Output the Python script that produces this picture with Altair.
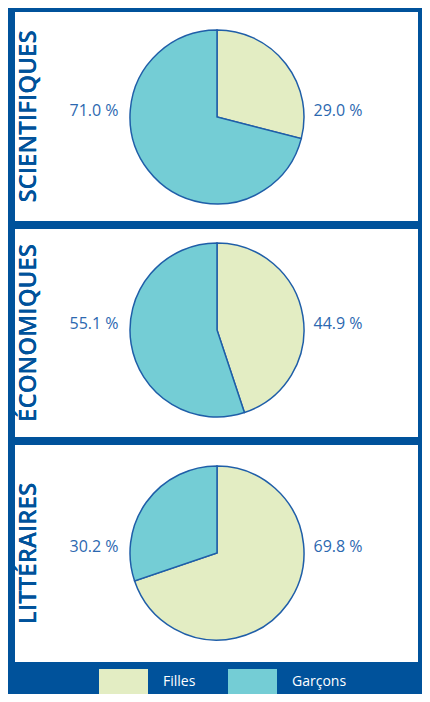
import altair as alt
import pandas as pd

# ---- data ----
categories = ["SCIENTIFIQUES", "ÉCONOMIQUES", "LITTÉRAIRES"]
genres = ["Filles", "Garçons"]
filles = [29.0, 44.9, 69.8]
garcons = [71.0, 55.1, 30.2]

# ---- style ----
BLUE = "#00529b"
LABEL_BLUE = "#2c68b0"
COLORS = ["#e3edc3", "#74cdd5"]
FONT = "Open Sans"
panel_heights = [209, 208, 217]
pie_cy = [105, 101, 108]
W = 403
CX = 202


def panel(i):
    df = pd.DataFrame({
        "genre": genres,
        "value": [filles[i], garcons[i]],
        "order": [0, 1],
        "label": [f"{filles[i]:.1f} %", f"{garcons[i]:.1f} %"],
        "cat": [categories[i]] * 2,
    })
    h = panel_heights[i]
    base = alt.Chart(df)
    arc = base.mark_arc(radius=87, stroke="#1f5ea8", strokeWidth=1.5).encode(
        theta=alt.Theta("value:Q", stack=True),
        color=alt.Color(
            "genre:N",
            scale=alt.Scale(domain=genres, range=COLORS),
            legend=alt.Legend(
                title=None,
                orient="none",
                direction="horizontal",
                legendX=84,
                legendY=645,
                symbolType="M-1,-0.51H1V0.51H-1Z",
                symbolSize=2401,
                symbolStrokeWidth=0,
                symbolOpacity=1,
                labelColor="white",
                labelFont=FONT,
                labelFontSize=14,
                labelOffset=15,
                columnPadding=32,
            ),
        ),
        order=alt.Order("order:Q"),
        x=alt.value(CX),
        y=alt.value(pie_cy[i]),
    )
    labels = base.mark_text(font=FONT, fontSize=16, color=LABEL_BLUE).encode(
        x=alt.X("genre:N", scale=alt.Scale(domain=["Garçons", "Filles"], range=[79, 323], padding=0), axis=None),
        y=alt.value(pie_cy[i] - 6),
        text="label:N",
    )
    title = base.mark_text(
        font=FONT, fontSize=24, fontWeight=600, color=BLUE, angle=270
    ).encode(
        x=alt.value(14),
        y=alt.value(h / 2),
        text="cat:N",
    )
    return alt.layer(arc, labels, title).properties(width=W, height=h)


chart = (
    alt.vconcat(*[panel(i) for i in range(3)], spacing=8)
    .configure(background=BLUE, padding={"left": 7, "top": 4, "right": 4, "bottom": 0})
    .configure_view(fill="white", strokeWidth=0)
    .configure_legend(padding=0)
)

chart.save("out.html", embed_options={"renderer": "svg", "actions": False})
